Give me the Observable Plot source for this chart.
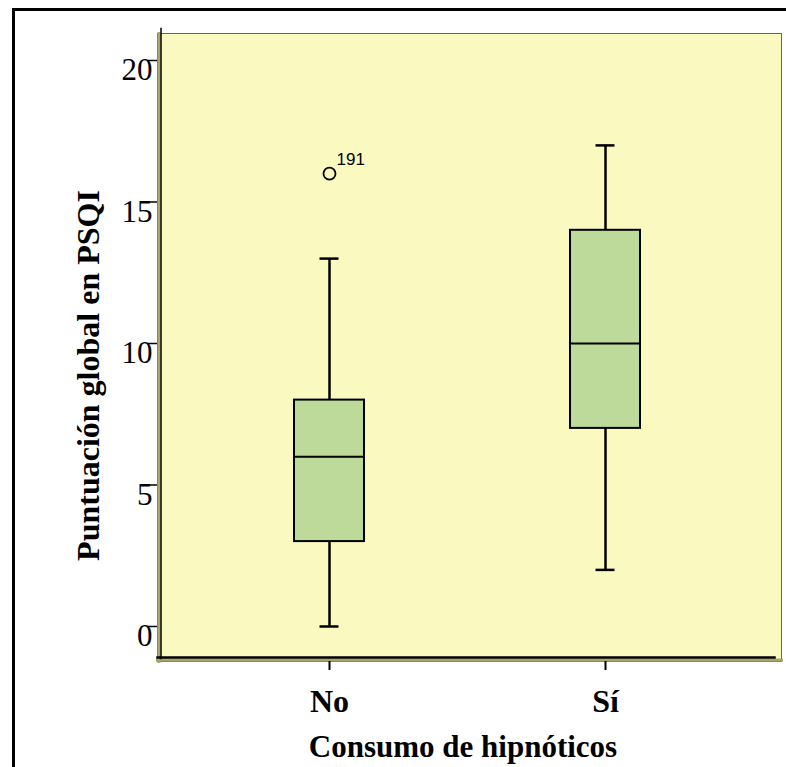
<!DOCTYPE html>
<html>
<head>
<meta charset="utf-8">
<script src="https://cdn.jsdelivr.net/npm/d3@7"></script>
<script src="https://cdn.jsdelivr.net/npm/@observablehq/plot@0.6"></script>
<style>
  html, body { margin: 0; padding: 0; background: #fff; }
  #wrap { position: relative; width: 786px; height: 767px; overflow: hidden; }
  #outer { position: absolute; left: 12px; top: 8px; width: 900px; height: 900px;
           border-left: 3px solid #000; border-top: 3px solid #000; box-sizing: border-box; }
  #chart { position: absolute; left: 0; top: 0; }
</style>
</head>
<body>
<div id="wrap"><div id="outer"></div><div id="chart"></div></div>
<script>
// Data
const categories = ["No", "Sí"];
const whiskerLow = [0, 2];
const q1 = [3, 7];
const median = [6, 10];
const q3 = [8, 14];
const whiskerHigh = [13, 17];
const outlierCat = ["No"];
const outlierVal = [16];
const outlierId = ["191"];
const yTicks = [0, 5, 10, 15, 20];
const xTitle = "Consumo de hipnóticos";
const yTitle = "Puntuación global en PSQI";

const boxes = categories.map((c, i) => ({
  cat: c, lo: whiskerLow[i], q1: q1[i], med: median[i], q3: q3[i], hi: whiskerHigh[i]
}));
const outliers = outlierCat.map((c, i) => ({cat: c, v: outlierVal[i], id: outlierId[i]}));

const yellow = "#FAF9C0";
const green = "#BDDA9B";
const olive = "#A8A66C";

const chart = Plot.plot({
  width: 786,
  height: 767,
  marginLeft: 157,
  marginRight: 5,
  marginTop: 33,
  marginBottom: 106,
  style: {fontFamily: "'Liberation Serif', 'Times New Roman', serif", background: "transparent", color: "#000", overflow: "visible"},
  x: {type: "band", domain: categories, paddingInner: 0.7464, paddingOuter: 0.5036, align: 0.4928, round: false, axis: null},
  y: {domain: [-1.237, 20.954], axis: null},
  marks: [
    Plot.frame({fill: yellow, stroke: "#666", strokeWidth: 1}),
    Plot.frame({anchor: "left", stroke: olive, strokeWidth: 3, insetLeft: 1.5}),
    Plot.frame({anchor: "bottom", stroke: olive, strokeWidth: 3, insetBottom: 1.5}),
    Plot.frame({anchor: "left", stroke: "#000", strokeWidth: 1.5, insetLeft: 3.5, insetTop: -5, insetBottom: 3}),
    Plot.frame({anchor: "bottom", stroke: "#000", strokeWidth: 2.5, insetBottom: 4, insetRight: 7}),
    // y axis ticks and labels
    Plot.axisY(yTicks, {tickSize: 10, fill: "none", stroke: "#000", strokeWidth: 1.5, label: null}),
    Plot.axisY(yTicks, {tickSize: 0, tickPadding: 5, dy: 10, fontSize: 31, label: null}),
    // x axis
    Plot.axisX({tickSize: 9, tickPadding: 19, fontSize: 32, fontWeight: "bold", stroke: "#000", strokeWidth: 2, label: null}),
    // whiskers
    Plot.ruleX(boxes, {x: "cat", y1: "q3", y2: "hi", stroke: "#000", strokeWidth: 2.5}),
    Plot.ruleX(boxes, {x: "cat", y1: "lo", y2: "q1", stroke: "#000", strokeWidth: 2.5}),
    Plot.tickY(boxes, {x: "cat", y: "hi", stroke: "#000", strokeWidth: 2.5, inset: 25.5}),
    Plot.tickY(boxes, {x: "cat", y: "lo", stroke: "#000", strokeWidth: 2.5, inset: 25.5}),
    // boxes
    Plot.barY(boxes, {x: "cat", y1: "q1", y2: "q3", fill: green, stroke: "#000", strokeWidth: 2}),
    Plot.tickY(boxes, {x: "cat", y: "med", stroke: "#000", strokeWidth: 2}),
    // outliers
    Plot.dot(outliers, {x: "cat", y: "v", r: 6, stroke: "#000", strokeWidth: 1.8, fill: "none"}),
    Plot.text(outliers, {x: "cat", y: "v", text: "id", dx: 7, dy: -14, textAnchor: "start",
      fontFamily: "'Liberation Sans', Arial, sans-serif", fontSize: 17}),
    // titles
    Plot.text([yTitle], {text: d => d, frameAnchor: "left", rotate: -90, dx: -69, dy: 28,
      fontSize: 32, fontWeight: "bold", textAnchor: "middle"}),
    Plot.text([xTitle], {text: d => d, frameAnchor: "bottom", dx: -6.5, dy: 95,
      fontSize: 31, fontWeight: "bold", textAnchor: "middle"})
  ]
});
document.getElementById("chart").appendChild(chart);
</script>
</body>
</html>
